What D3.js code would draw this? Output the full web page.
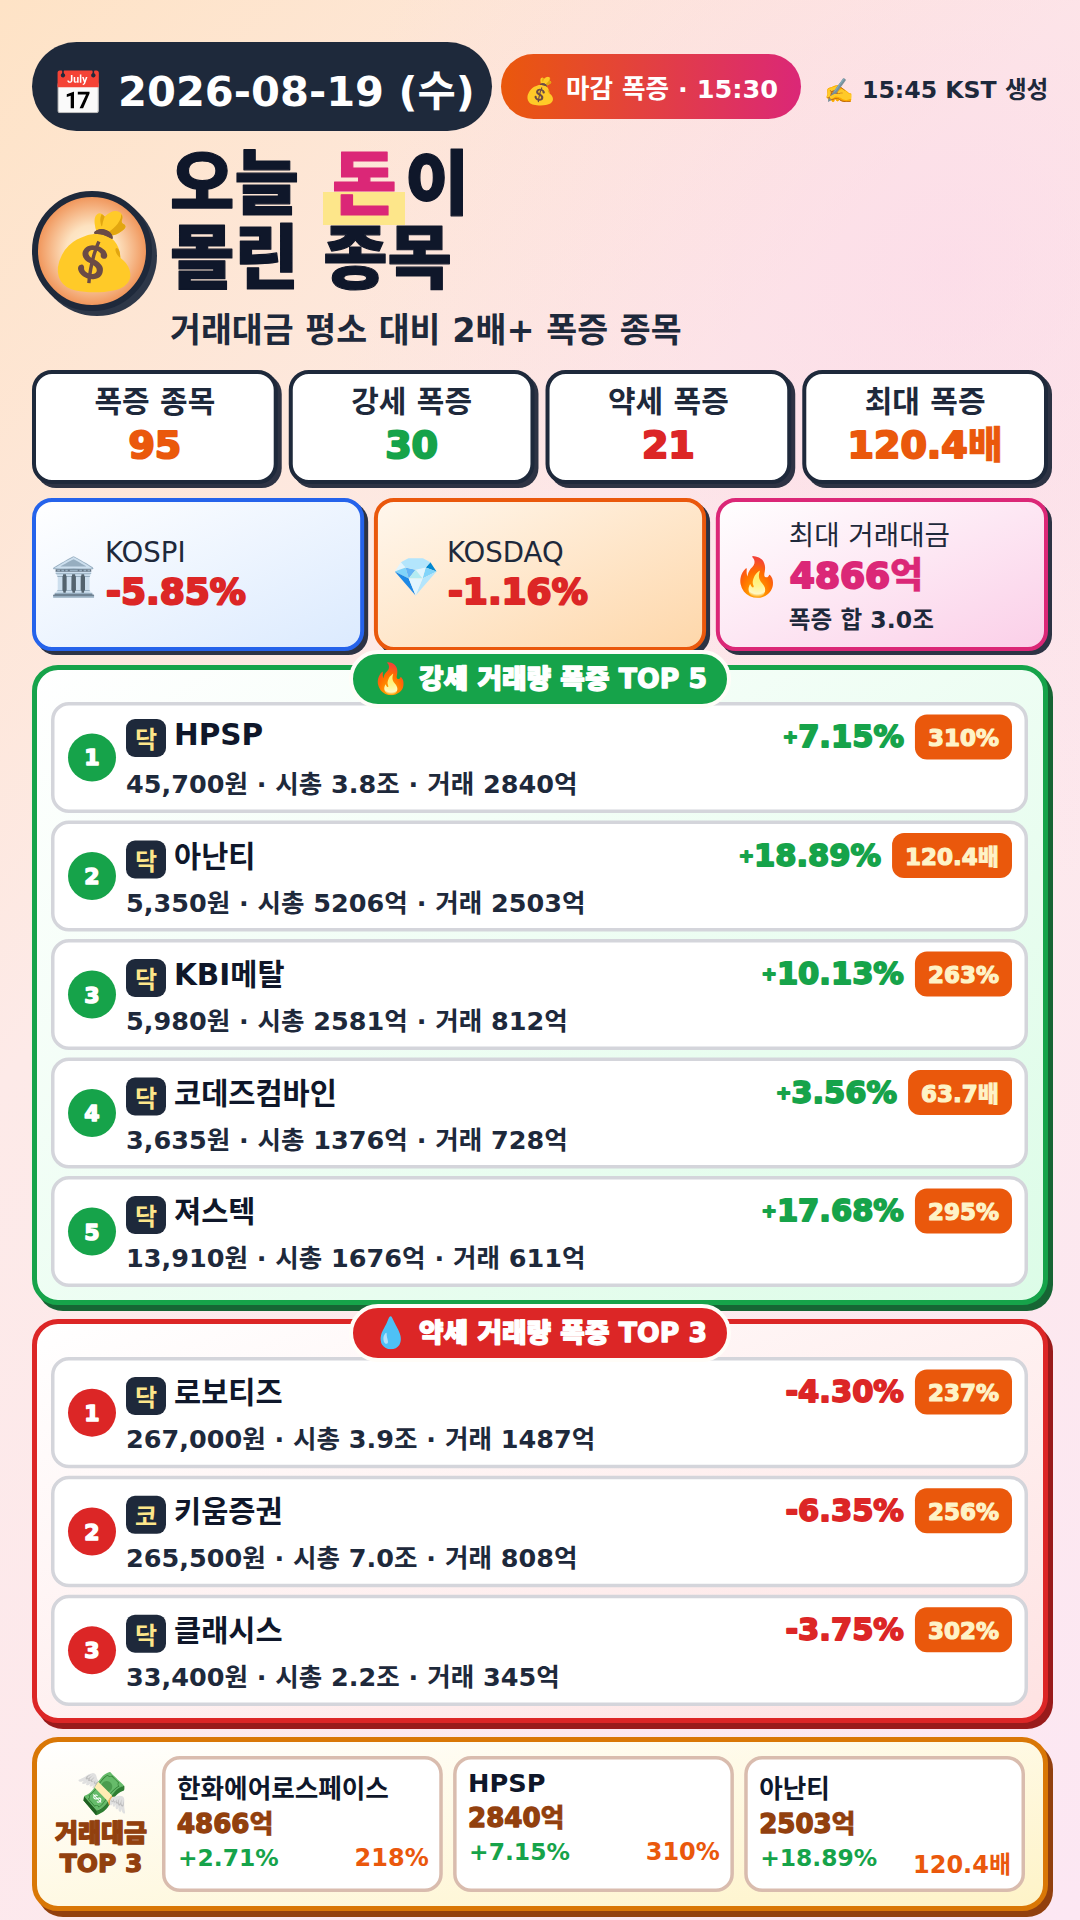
<!DOCTYPE html>
<html lang="ko">
<head>
<meta charset="utf-8">
<title>오늘 돈이 몰린 종목</title>
<script src="https://cdn.jsdelivr.net/npm/d3@7/dist/d3.min.js"></script>
<style>
  html, body { margin: 0; padding: 0; background: #fde3e0; }
  svg { display: block; }
  text { font-family: "DejaVu Sans", "Noto Sans CJK KR", "Noto Color Emoji", sans-serif; }
</style>
</head>
<body>
<div id="chart"></div>
<script>
// 상단 요약
const statLabels = ["폭증 종목", "강세 폭증", "약세 폭증", "최대 폭증"]
const statValues = ["95", "30", "21", "120.4배"]
const statColors = ["#ea580c", "#16a34a", "#dc2626", "#ea580c"]

const indexLabels = ["KOSPI", "KOSDAQ", "최대 거래대금"]
const indexValues = ["-5.85%", "-1.16%", "4866억"]
const indexIcons = ["🏛️", "💎", "🔥"]

// 강세 TOP 5
const upNames = ["HPSP", "아난티", "KBI메탈", "코데즈컴바인", "져스텍"]
const upMarkets = ["닥", "닥", "닥", "닥", "닥"]
const upInfo = [
  "45,700원 · 시총 3.8조 · 거래 2840억",
  "5,350원 · 시총 5206억 · 거래 2503억",
  "5,980원 · 시총 2581억 · 거래 812억",
  "3,635원 · 시총 1376억 · 거래 728억",
  "13,910원 · 시총 1676억 · 거래 611억"
]
const upChanges = ["+7.15%", "+18.89%", "+10.13%", "+3.56%", "+17.68%"]
const upRatios = ["310%", "120.4배", "263%", "63.7배", "295%"]

// 약세 TOP 3
const downNames = ["로보티즈", "키움증권", "클래시스"]
const downMarkets = ["닥", "코", "닥"]
const downInfo = [
  "267,000원 · 시총 3.9조 · 거래 1487억",
  "265,500원 · 시총 7.0조 · 거래 808억",
  "33,400원 · 시총 2.2조 · 거래 345억"
]
const downChanges = ["-4.30%", "-6.35%", "-3.75%"]
const downRatios = ["237%", "256%", "302%"]

// 거래대금 TOP 3
const topNames = ["한화에어로스페이스", "HPSP", "아난티"]
const topAmounts = ["4866억", "2840억", "2503억"]
const topChanges = ["+2.71%", "+7.15%", "+18.89%"]
const topRatios = ["218%", "310%", "120.4배"]

const width = 1080, height = 1920
const navy = "#1e293b", ink = "#0f172a"
const hangul = /[가-힣]/

const svg = d3.select("#chart").append("svg")
  .attr("width", width).attr("height", height)
const defs = svg.append("defs")

function gradiente(id, stops, x1 = 0, y1 = 0, x2 = 1, y2 = 1, user = false) {
  let g = defs.append("linearGradient").attr("id", id)
    .attr("x1", x1).attr("y1", y1).attr("x2", x2).attr("y2", y2)
  if (user) g.attr("gradientUnits", "userSpaceOnUse")
  stops.forEach((c, i) => g.append("stop")
    .attr("offset", c[1]).attr("stop-color", c[0]))
  return "url(#" + id + ")"
}

function texto(s, x, y, size, fill, opts = {}) {
  let t = svg.append("text").text(s)
    .attr("x", x).attr("y", y)
    .attr("font-size", size).attr("fill", fill)
    .attr("font-weight", opts.weight || 700)
    .attr("text-anchor", opts.anchor || "start")
  if (opts.heavy) {
    t.attr("stroke", fill).attr("stroke-width", opts.heavy)
      .attr("stroke-linejoin", "round").attr("font-weight", 900)
  }
  return t
}

// numero grueso + unidad en hangul con menos trazo, si no se empasta
function valor(s, x, y, size, fill, opts) {
  let t = texto("", x, y, size, fill, opts)
  let last = s.slice(-1)
  if (hangul.test(last)) {
    t.append("tspan").text(s.slice(0, -1))
    t.append("tspan").text(last).attr("stroke-width", 0.4)
  } else {
    t.text(s)
  }
  return t
}

// caja con borde y sombra dura, como un box-shadow de css
function caja(x, y, w, h, r, fill, stroke, bw, shadow, sx = 4, sy = 4) {
  if (shadow) {
    svg.append("rect").attr("x", x + sx).attr("y", y + sy)
      .attr("width", w).attr("height", h).attr("rx", r).attr("fill", shadow)
  }
  svg.append("rect").attr("x", x + bw / 2).attr("y", y + bw / 2)
    .attr("width", w - bw).attr("height", h - bw)
    .attr("rx", r - bw / 2).attr("fill", fill)
    .attr("stroke", stroke).attr("stroke-width", bw)
}

// el + va mas chico y mas arriba que los numeros
function cambio(s, x, y, size, fill) {
  let t = texto("", x, y, size, fill, { anchor: "end", heavy: 1.8 })
  if (s[0] === "+") {
    t.append("tspan").text("+").attr("font-size", size * 0.6).attr("dy", -4)
    t.append("tspan").text(s.slice(1)).attr("dy", 4)
  } else {
    t.text(s)
  }
  return t
}

// fondo
svg.append("rect").attr("width", width).attr("height", height)
  .attr("fill", gradiente("bg", [["#fee3c6", 0], ["#fdeae8", 0.36], ["#fce7f3", 1]], -210, 210, 1290, 1710, true))
let glow = defs.append("radialGradient").attr("id", "glow")
glow.append("stop").attr("offset", 0).attr("stop-color", "#fbcfe8").attr("stop-opacity", 0.45)
glow.append("stop").attr("offset", 1).attr("stop-color", "#fbcfe8").attr("stop-opacity", 0)
svg.append("circle").attr("cx", 950).attr("cy", 270).attr("r", 620).attr("fill", "url(#glow)")

// cabecera
caja(32, 42, 460, 89, 44.5, navy, navy, 0)
texto("📅", 52, 108, 42, "#fff")
texto("2026-08-19 (수)", 118, 106, 41.6, "#fff")

caja(501, 54, 300, 65, 32.5, gradiente("pill", [["#ea580c", 0], ["#db2777", 1]], 0, 0, 1, 0), "none", 0)
texto("💰", 524, 100, 26, "#fff")
texto("마감 폭증 · 15:30", 566, 98, 25.6, "#fff")

texto("✍️", 824, 99, 24, navy)
texto("15:45 KST 생성", 862, 98, 23.6, navy)

// moneda
let grad = defs.append("radialGradient").attr("id", "coin")
grad.append("stop").attr("offset", 0).attr("stop-color", "#fff4e0")
grad.append("stop").attr("offset", 0.45).attr("stop-color", "#fde2c0")
grad.append("stop").attr("offset", 1).attr("stop-color", "#ef8f52")
svg.append("circle").attr("cx", 97).attr("cy", 256).attr("r", 60).attr("fill", "#2d3748")
svg.append("circle").attr("cx", 92).attr("cy", 251).attr("r", 57)
  .attr("fill", "url(#coin)").attr("stroke", navy).attr("stroke-width", 6)
texto("💰", 48, 277, 74, "#000").attr("font-weight", 400)

// titulo
svg.append("rect").attr("x", 323).attr("y", 192).attr("width", 82).attr("height", 33).attr("fill", "#fde68a")
texto("오늘", 170, 209, 70, ink, { heavy: 1.2 })
texto("돈", 332, 209, 70, "#db2777", { heavy: 1.2 })
texto("이", 405, 209, 70, ink, { heavy: 1.2 })
texto("몰린 종목", 170, 283, 70, ink, { heavy: 1.2 })
texto("거래대금 평소 대비 2배+ 폭증 종목", 170, 342, 33.6, navy)

// tarjetas de resumen
const xStat = d3.scaleBand().domain(d3.range(statLabels.length)).range([32, 1048]).paddingInner(0.043)
statLabels.forEach((d, i) => {
  caja(xStat(i), 370, xStat.bandwidth(), 114, 20, "#fff", navy, 4, "#2d3344")
  let cx = xStat(i) + xStat.bandwidth() / 2
  texto(d, cx, 412, 30, navy, { anchor: "middle" })
  valor(statValues[i], cx, 458, 38, statColors[i], { anchor: "middle", heavy: 2.2 })
})

// tarjetas de indice
const xIndex = d3.scaleBand().domain(d3.range(indexLabels.length)).range([32, 1048]).paddingInner(0.0285)
const indexFills = [
  gradiente("i0", [["#ffffff", 0], ["#dbeafe", 1]]),
  gradiente("i1", [["#fff7ed", 0], ["#fed7aa", 1]]),
  gradiente("i2", [["#ffffff", 0], ["#fbcfe8", 1]])
]
const indexBorders = ["#2563eb", "#ea580c", "#db2777"]
indexLabels.forEach((d, i) => {
  caja(xIndex(i), 498, xIndex.bandwidth(), 153, 20, indexFills[i], indexBorders[i], 4, "#2d3344")
  let x0 = xIndex(i)
  texto(indexIcons[i], x0 + 18, 590, 38, "#000").attr("font-weight", 400)
  if (i < 2) {
    texto(d, x0 + 73, 562, 27.6, navy, { weight: 400 })
    valor(indexValues[i], x0 + 74, 604, 36, "#dc2626", { heavy: 2.2 })
  } else {
    texto(d, x0 + 73, 545, 27.6, navy, { weight: 400 })
    valor(indexValues[i], x0 + 74, 588, 36, "#db2777", { heavy: 2.2 })
    texto("폭증 합 3.0조", x0 + 73, 628, 23.6, navy)
  }
})

function seccion(names, markets, info, changes, ratios, o) {
  caja(32, o.top, 1016, o.bottom - o.top, 26, o.fill, o.color, 5, o.dark, 5, 6)
  const yRow = d3.scaleBand().domain(d3.range(names.length))
    .range([o.rowTop, o.rowBottom]).paddingInner(0.0633)
  names.forEach((n, i) => {
    let y0 = yRow(i), h = yRow.bandwidth(), extra = hangul.test(n) ? 3 : 0
    caja(51, y0, 977, h, 18, "#fff", "#d4d5db", 3.5)
    svg.append("circle").attr("cx", 92).attr("cy", y0 + h / 2).attr("r", 24).attr("fill", o.color)
    texto(i + 1, 92, y0 + h / 2 + 8, 22, "#fff", { anchor: "middle", heavy: 1.5 })
    caja(126, y0 + 17 + extra, 40, 38, 9, navy, navy, 0)
    texto(markets[i], 146, y0 + 46 + extra, 24, "#fde68a", { anchor: "middle" })
    texto(n, 174, y0 + 43 + extra, 29.5, ink)
    texto(info[i], 126, y0 + 91, 25.5, navy)

    // el badge se ajusta al ancho del texto
    let badge = svg.append("rect").attr("y", y0 + 12.5).attr("height", 45).attr("rx", 12).attr("fill", "#ea580c")
    let lab = valor(ratios[i], 999, y0 + 44, 23, "#fef3c7", { anchor: "end", heavy: 1.2 })
    let w = lab.node().getComputedTextLength() + 26
    badge.attr("x", 1012 - w).attr("width", w)
    cambio(changes[i], 1012 - w - 11, y0 + 45, 30.5, o.color)
  })
  svg.append("rect").attr("x", 351).attr("y", o.top - 13).attr("width", 378).attr("height", 54)
    .attr("rx", 27).attr("fill", o.color).attr("stroke", "#fffdf8").attr("stroke-width", 4)
  texto(o.icon, 372, o.top + 24, 30, "#fff").attr("font-weight", 400)
  texto(o.title, 419, o.top + 23, 26.7, "#fff", { heavy: 1.3 })
}

seccion(upNames, upMarkets, upInfo, upChanges, upRatios, {
  top: 665, bottom: 1305, rowTop: 702, rowBottom: 1287,
  color: "#16a34a", dark: "#166534",
  fill: gradiente("s0", [["#ffffff", 0], ["#dcfce7", 1]]),
  icon: "🔥", title: "강세 거래량 폭증 TOP 5"
})
seccion(downNames, downMarkets, downInfo, downChanges, downRatios, {
  top: 1319, bottom: 1723, rowTop: 1357, rowBottom: 1706,
  color: "#dc2626", dark: "#991b1b",
  fill: gradiente("s1", [["#ffffff", 0], ["#fee2e2", 1]]),
  icon: "💧", title: "약세 거래량 폭증 TOP 3"
})

// bloque inferior
caja(32, 1737, 1016, 174, 26, gradiente("s2", [["#ffffff", 0], ["#fef3c7", 1]]), "#d97706", 5, "#92400e", 5, 6)
texto("💸", 76, 1808, 42, "#000").attr("font-weight", 400)
texto("거래대금", 101, 1842, 25, "#92400e", { anchor: "middle", heavy: 1.3 })
texto("TOP 3", 101, 1872, 25, "#92400e", { anchor: "middle", heavy: 1.3 })

const xTop = d3.scaleBand().domain(d3.range(topNames.length)).range([162, 1025]).paddingInner(0.0355)
topNames.forEach((d, i) => {
  let x0 = xTop(i), w = xTop.bandwidth(), dy = hangul.test(d) ? 0 : -6
  caja(x0, 1756, w, 136, 18, "#fff", "#d9bcae", 3.5)
  texto(d, x0 + 15, 1798 + dy, 25.6, ink)
  valor(topAmounts[i], x0 + 15, 1833 + dy, 26, "#92400e", { heavy: 1.4 })
  texto(topChanges[i], x0 + 16, 1866 + dy, 23.4, "#16a34a")
  texto(topRatios[i], x0 + w - 14, 1866 + dy + (hangul.test(topRatios[i]) ? 7 : 0), 24, "#ea580c", { anchor: "end" })
})
</script>
</body>
</html>
